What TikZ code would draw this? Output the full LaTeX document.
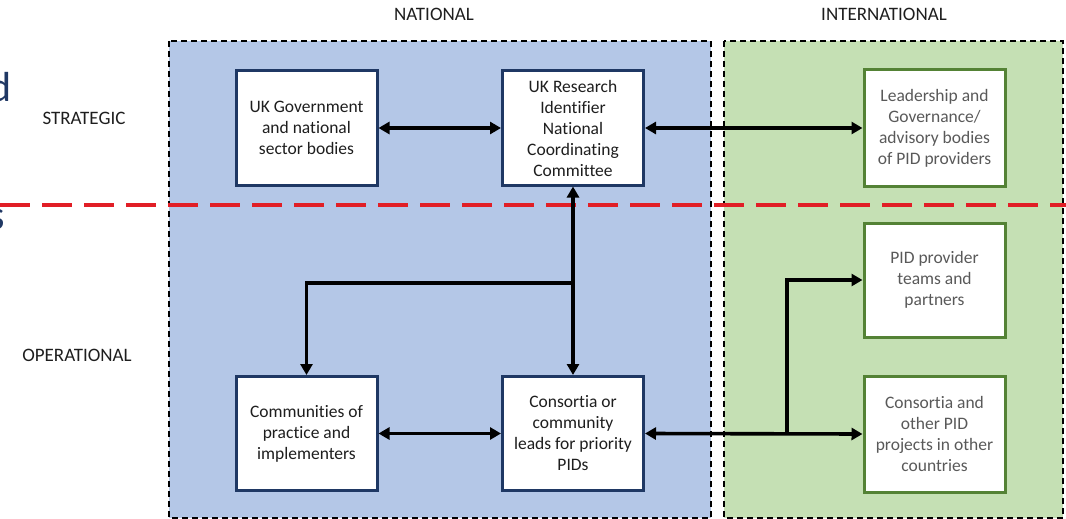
\documentclass[tikz,border=0pt]{standalone}
\usepackage{fontspec}
\setmainfont{Carlito}[Ligatures=NoCommon]
\usetikzlibrary{arrows.meta}
\definecolor{natfill}{RGB}{180,199,231}
\definecolor{intfill}{RGB}{197,224,180}
\definecolor{natedge}{RGB}{31,56,100}
\definecolor{intedge}{RGB}{84,130,53}
\definecolor{inttext}{RGB}{89,89,89}
\definecolor{nattext}{RGB}{30,30,30}
\definecolor{divider}{RGB}{225,30,38}
\definecolor{slidenavy}{RGB}{32,56,100}
\begin{document}
\begin{tikzpicture}[x=1pt,y=-1pt,
  lbl/.style={font=\fontsize{19}{22}\selectfont, text=nattext, inner sep=0pt},
  natbox/.style={draw=natedge, line width=3pt, fill=white, align=center,
    minimum width=141pt, minimum height=114pt, inner sep=2pt, text=nattext,
    font=\fontsize{17.5}{21}\selectfont},
  intbox/.style={natbox, draw=intedge, text=inttext},
  region/.style={draw=black, line width=1.7pt, dash pattern=on 6pt off 4pt},
  link/.style={line width=3.6pt, draw=black},
  tip/.style={-{Triangle[length=11pt,width=12pt]}},
  bitip/.style={{Triangle[length=11pt,width=12pt]}-{Triangle[length=11pt,width=12pt]}}
]
\useasboundingbox (0,0) rectangle (1066,519);

% national and international panels
\path[fill=natfill] (169,41) rectangle (711,518);
\path[fill=intfill] (724,41) rectangle (1063,518);
\draw[region] (169,41) rectangle (711,518);
\draw[region] (724,41) rectangle (1063,518);

% column and row headings
\node[lbl] (hnat) at (434,14) {NATIONAL};
\node[lbl] (hint) at (884,14) {INTERNATIONAL};
\node[lbl] (hstr) at (84,118) {STRATEGIC};
\node[lbl] (hop) at (77,355) {OPERATIONAL};

% slide text running in from the left
\node[anchor=base east, inner sep=0pt, text=slidenavy,
  font=\fontsize{42}{48}\selectfont] (sd) at (12,101) {d};
\node[anchor=base east, inner sep=0pt, text=slidenavy,
  font=\fontsize{42}{48}\selectfont] (ss) at (5,229) {s};

% strategic / operational divider
\draw[divider, line width=4pt, dash pattern=on 30pt off 12pt] (0,205) -- (1066,205);

% boxes
\node[natbox] (gov)  at (306.5,128) {UK Government\\and national\\sector bodies};
\node[natbox] (ukri) at (573,128) {UK Research\\Identifier\\National\\Coordinating\\Committee};
\node[natbox] (comm) at (306.5,433.5) {Communities of\\practice and\\implementers};
\node[natbox] (cons) at (573,433.5) {Consortia or\\community\\leads for priority\\PIDs};
\node[intbox, minimum height=116pt] (lead) at (934.5,128) {Leadership and\\Governance/\\advisory bodies\\of PID providers};
\node[intbox] (prov) at (934.5,280) {PID provider\\teams and\\partners};
\node[intbox, minimum height=116pt] (oth) at (934.5,434) {Consortia and\\other PID\\projects in other\\countries};

% connectors
\draw[link, bitip] (gov.east) -- (ukri.west);
\draw[link, bitip] (ukri.east) -- (lead.west);
\draw[link, bitip] (comm.east) -- (cons.west);
\draw[link, bitip] (cons.east) -- (oth.west);
\draw[link, bitip] (ukri.south) -- (cons.north);
\coordinate (jn) at (ukri.south |- 0,283);
\draw[link, tip] (jn) -| (comm.north);
\coordinate (ji) at (787,0 |- cons.east);
\draw[link, tip] (ji) |- (prov.west);
\end{tikzpicture}
\end{document}
